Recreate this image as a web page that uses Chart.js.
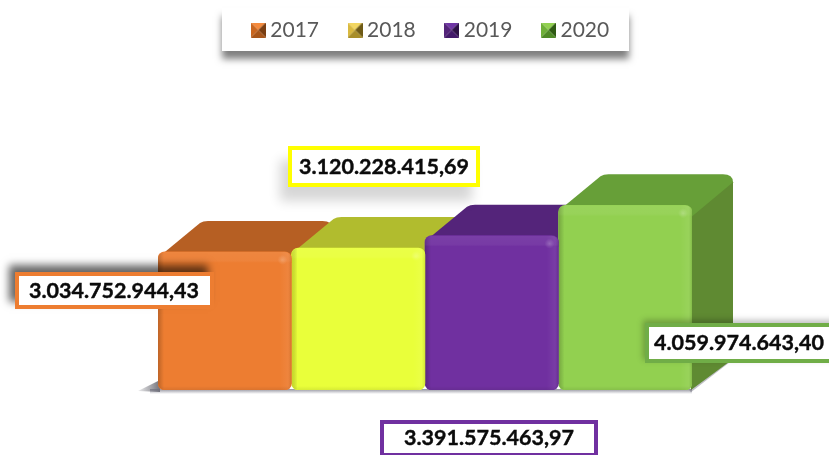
<!DOCTYPE html>
<html>
<head>
<meta charset="utf-8">
<style>html,body{margin:0;padding:0;background:#fff}#wrap{width:829px;height:455px;position:relative}</style>
<script src="https://cdn.jsdelivr.net/npm/chart.js@4/dist/chart.umd.min.js"></script>
</head>
<body>
<div id="wrap"><canvas id="c" width="829" height="455"></canvas></div>
<script>
const categories = ["Total"];
const seriesNames = ["2017", "2018", "2019", "2020"];
const values2017 = [3034752944.43];
const values2018 = [3120228415.69];
const values2019 = [3391575463.97];
const values2020 = [4059974643.40];
const valueLabels = ["3.034.752.944,43", "3.120.228.415,69", "3.391.575.463,97", "4.059.974.643,40"];
const frontColors = ["#ED7D31", "#E9FF3A", "#7030A0", "#92D050"];
const topColors = ["#B65F23", "#B1BC2E", "#54247A", "#679F38"];
const sideColors = ["#9A4F1C", "#98A226", "#451C66", "#5F8A32"];
const swatchColors = [
  ["#F58A3C", "#C9661F", "#7A3E12", "#A8561A"],
  ["#F2D661", "#D9B93F", "#6E5A16", "#A88E2A"],
  ["#6F35A5", "#54247A", "#2C1045", "#43196A"],
  ["#92D050", "#6FAF38", "#2F5A14", "#4F8A26"]
];
const boxes = [
  {x:15, y:272, w:199, h:37, cx:114, cy:291, border:"#ED7D31", sx:-6, sy:-7, blur:8, sc:"rgba(0,0,0,0.6)"},
  {x:288, y:146, w:192, h:41, cx:384, cy:167, border:"#FFFF00", sx:-8, sy:14, blur:11, sc:"rgba(0,0,0,0.16)"},
  {x:380, y:420, w:218, h:37, cx:489, cy:438, border:"#7030A0", sx:0, sy:0, blur:0, sc:"rgba(0,0,0,0)"},
  {x:645, y:323, w:200, h:40, cx:739, cy:343, border:"#70AD47", sx:-2, sy:-3, blur:6, sc:"rgba(0,0,0,0.25)"}
];
const depthX = 42, depthY = 31;

function swatch(cols) {
  const s = 15, c = document.createElement("canvas");
  c.width = s; c.height = s;
  const g = c.getContext("2d"), m = s / 2;
  const tri = (col, pts) => { g.fillStyle = col; g.beginPath(); pts.forEach((p, k) => k ? g.lineTo(p[0], p[1]) : g.moveTo(p[0], p[1])); g.closePath(); g.fill(); };
  tri(cols[0], [[0,0],[s,0],[m,m]]);
  tri(cols[1], [[0,0],[0,s],[m,m]]);
  tri(cols[2], [[s,0],[s,s],[m,m]]);
  tri(cols[3], [[0,s],[s,s],[m,m]]);
  return c;
}
const swatches = swatchColors.map(swatch);

function poly(ctx, col, pts) {
  ctx.fillStyle = col; ctx.beginPath();
  pts.forEach((p, k) => k ? ctx.lineTo(p[0], p[1]) : ctx.moveTo(p[0], p[1]));
  ctx.closePath(); ctx.fill();
}

const decor = {
  id: "decor",
  afterLayout(chart) {
    chart.legend.left += 8; chart.legend.right += 8;
  },
  beforeDraw(chart) {
    const ctx = chart.ctx;
    ctx.save();
    ctx.shadowColor = "rgba(0,0,0,0.5)"; ctx.shadowBlur = 7; ctx.shadowOffsetY = 8; ctx.shadowOffsetX = 0;
    ctx.fillStyle = "#fff"; ctx.fillRect(222, 8, 407, 43);
    ctx.restore();
  },
  beforeDatasetsDraw(chart) {
    const ctx = chart.ctx;
    ctx.save();
    const base = chart.getDatasetMeta(0).data[0].base;
    // ground shadow
    const g0 = ctx.createLinearGradient(138, 0, 160, 0);
    g0.addColorStop(0, "rgba(80,80,90,0.1)"); g0.addColorStop(1, "rgba(80,80,90,0.8)");
    poly(ctx, g0, [[138, base + 1],[160, base - 10],[160, base + 2]]);
    const g1 = ctx.createLinearGradient(0, base - 1, 0, base + 4);
    g1.addColorStop(0, "rgba(110,110,125,0.75)"); g1.addColorStop(1, "rgba(110,110,125,0)");
    ctx.fillStyle = g1; ctx.fillRect(150, base - 1, 542, 5);
    ctx.strokeStyle = "rgba(110,110,125,0.45)"; ctx.lineWidth = 3;
    ctx.beginPath(); ctx.moveTo(690, base + 1); ctx.lineTo(730, base - depthY + 1); ctx.stroke();
    seriesNames.forEach((n, i) => {
      const b = chart.getDatasetMeta(i).data[0];
      const l = b.x - b.width / 2, r = b.x + b.width / 2, t = b.y;
      const dx = depthX, dy = depthY, cr = 8;
      if (i === seriesNames.length - 1) {
        poly(ctx, sideColors[i], [[r - 4, t + 2],[r + dx - 6, t - dy + 2],[r + dx - 1, t - dy + 8],[r + dx - 1, base - dy],[r - 1, base]]);
      }
      ctx.fillStyle = topColors[i];
      ctx.beginPath();
      ctx.moveTo(l + 2, t + 4);
      ctx.lineTo(l + dx, t - dy + 2);
      ctx.quadraticCurveTo(l + dx + 3, t - dy, l + dx + 8, t - dy);
      ctx.lineTo(r + dx - cr - 3, t - dy);
      ctx.quadraticCurveTo(r + dx - 1, t - dy, r + dx - 1, t - dy + 8);
      ctx.lineTo(r - 1, t + 12);
      ctx.closePath();
      ctx.fill();
    });
    ctx.restore();
  },
  afterDatasetsDraw(chart) {
    const ctx = chart.ctx;
    ctx.save();
    seriesNames.forEach((n, i) => {
      const b = chart.getDatasetMeta(i).data[0];
      const l = b.x - b.width / 2, r = b.x + b.width / 2, t = b.y, bt = b.base;
      ctx.save();
      ctx.beginPath(); ctx.roundRect(l, t, r - l, bt - t, 7); ctx.clip();
      const gl = ctx.createLinearGradient(l, 0, l + 6, 0);
      gl.addColorStop(0, i === 1 ? "rgba(120,130,0,0.3)" : "rgba(0,0,0,0.2)"); gl.addColorStop(1, "rgba(0,0,0,0)");
      ctx.fillStyle = gl; ctx.fillRect(l, t, 6, bt - t);
      const gr = ctx.createLinearGradient(r - 12, 0, r, 0);
      gr.addColorStop(0, "rgba(255,255,255,0)"); gr.addColorStop(0.7, "rgba(255,255,255,0.06)"); gr.addColorStop(1, "rgba(0,0,0,0.1)");
      ctx.fillStyle = gr; ctx.fillRect(r - 12, t, 12, bt - t);
      const gt = ctx.createLinearGradient(0, t, 0, t + 11);
      gt.addColorStop(0, "rgba(255,255,255,0.07)"); gt.addColorStop(0.8, "rgba(255,255,255,0.05)"); gt.addColorStop(1, "rgba(255,255,255,0)");
      ctx.fillStyle = gt; ctx.fillRect(l, t, r - l, 11);
      const gb = ctx.createLinearGradient(0, bt - 4, 0, bt);
      gb.addColorStop(0, "rgba(0,0,0,0)"); gb.addColorStop(1, "rgba(0,0,0,0.08)");
      ctx.fillStyle = gb; ctx.fillRect(l, bt - 4, r - l, 4);
      const gs = ctx.createRadialGradient(r - 9, t + 8, 0, r - 9, t + 8, 5);
      gs.addColorStop(0, "rgba(255,255,255,0.2)"); gs.addColorStop(1, "rgba(255,255,255,0)");
      ctx.fillStyle = gs; ctx.fillRect(r - 14, t + 3, 10, 10);
      ctx.restore();
    });
    ctx.restore();
  },
  afterDraw(chart) {
    const ctx = chart.ctx;
    boxes.forEach((bx, i) => {
      ctx.save();
      ctx.shadowColor = bx.sc; ctx.shadowBlur = bx.blur; ctx.shadowOffsetX = bx.sx; ctx.shadowOffsetY = bx.sy;
      ctx.fillStyle = bx.border; ctx.fillRect(bx.x, bx.y, bx.w, bx.h);
      ctx.restore();
      ctx.save();
      ctx.fillStyle = "#fff"; ctx.fillRect(bx.x + 4, bx.y + 4, bx.w - 8, bx.h - 8);
      ctx.fillStyle = "#0b0b0b"; ctx.strokeStyle = "#0b0b0b"; ctx.lineWidth = 0.4;
      ctx.font = "bold 21.5px Lato";
      ctx.textAlign = "center"; ctx.textBaseline = "middle";
      ctx.fillText(valueLabels[i], bx.cx, bx.cy);
      ctx.strokeText(valueLabels[i], bx.cx, bx.cy);
      ctx.restore();
    });
  }
};

const allValues = [values2017, values2018, values2019, values2020];
new Chart(document.getElementById("c"), {
  type: "bar",
  data: {
    labels: categories,
    datasets: seriesNames.map((n, i) => ({
      label: n, data: allValues[i], backgroundColor: frontColors[i],
      borderRadius: 7, borderSkipped: false, borderWidth: 0,
      categoryPercentage: 1, barPercentage: 1, pointStyle: swatches[i]
    }))
  },
  options: {
    responsive: false, animation: false,
    layout: { padding: { left: 158, right: 137, top: -15, bottom: 65 } },
    scales: {
      x: { display: false },
      y: { display: false, min: 0, max: 7.46e9 }
    },
    plugins: {
      tooltip: { enabled: false },
      legend: {
        position: "top",
        labels: { usePointStyle: true, boxWidth: 3, padding: 34.5, color: "#595959", font: { family: "Lato", size: 21 } }
      }
    }
  },
  plugins: [decor]
});
</script>
</body>
</html>
